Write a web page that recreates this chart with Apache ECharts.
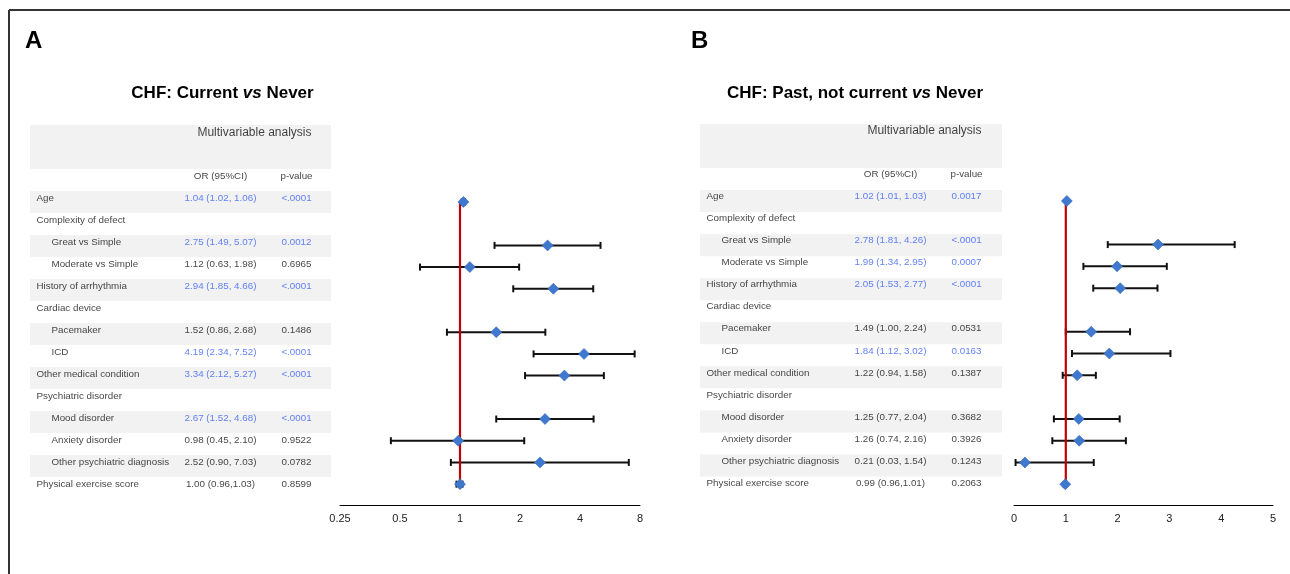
<!DOCTYPE html>
<html><head><meta charset="utf-8">
<script src="https://cdn.jsdelivr.net/npm/echarts@6/dist/echarts.min.js"></script>
<style>html,body{margin:0;padding:0;background:#fff}#c{width:1290px;height:574px}</style>
</head><body><div id="c"></div>
<script>
// ---------------- data ----------------
const rowLabels = ['Age','Complexity of defect','Great vs Simple','Moderate vs Simple','History of arrhythmia','Cardiac device','Pacemaker','ICD','Other medical condition','Psychiatric disorder','Mood disorder','Anxiety disorder','Other psychiatric diagnosis','Physical exercise score'];
const rowLevel = [0,0,1,1,0,0,1,1,0,0,1,1,1,0];

const headerTitle = 'Multivariable analysis';
const colHeaders = ['OR (95%CI)', 'p-value'];

const currentTitle = ['CHF: Current ', 'vs', ' Never'];
const currentOR = [1.04, null, 2.75, 1.12, 2.94, null, 1.52, 4.19, 3.34, null, 2.67, 0.98, 2.52, 1.00];
const currentLo = [1.02, null, 1.49, 0.63, 1.85, null, 0.86, 2.34, 2.12, null, 1.52, 0.45, 0.90, 0.96];
const currentHi = [1.06, null, 5.07, 1.98, 4.66, null, 2.68, 7.52, 5.27, null, 4.68, 2.10, 7.03, 1.03];
const currentText = ['1.04 (1.02, 1.06)','','2.75 (1.49, 5.07)','1.12 (0.63, 1.98)','2.94 (1.85, 4.66)','','1.52 (0.86, 2.68)','4.19 (2.34, 7.52)','3.34 (2.12, 5.27)','','2.67 (1.52, 4.68)','0.98 (0.45, 2.10)','2.52 (0.90, 7.03)','1.00 (0.96,1.03)'];
const currentP = ['<.0001','','0.0012','0.6965','<.0001','','0.1486','<.0001','<.0001','','<.0001','0.9522','0.0782','0.8599'];
const currentTicks = [0.25, 0.5, 1, 2, 4, 8];

const pastTitle = ['CHF: Past, not current ', 'vs', ' Never'];
const pastOR = [1.02, null, 2.78, 1.99, 2.05, null, 1.49, 1.84, 1.22, null, 1.25, 1.26, 0.21, 0.99];
const pastLo = [1.01, null, 1.81, 1.34, 1.53, null, 1.00, 1.12, 0.94, null, 0.77, 0.74, 0.03, 0.96];
const pastHi = [1.03, null, 4.26, 2.95, 2.77, null, 2.24, 3.02, 1.58, null, 2.04, 2.16, 1.54, 1.01];
const pastText = ['1.02 (1.01, 1.03)','','2.78 (1.81, 4.26)','1.99 (1.34, 2.95)','2.05 (1.53, 2.77)','','1.49 (1.00, 2.24)','1.84 (1.12, 3.02)','1.22 (0.94, 1.58)','','1.25 (0.77, 2.04)','1.26 (0.74, 2.16)','0.21 (0.03, 1.54)','0.99 (0.96,1.01)'];
const pastP = ['0.0017','','<.0001','0.0007','<.0001','','0.0531','0.0163','0.1387','','0.3682','0.3926','0.1243','0.2063'];
const pastTicks = [0, 1, 2, 3, 4, 5];

const refValue = 1;

// ---------------- style / layout ----------------
const FONT = "'Liberation Sans', Arial, sans-serif";
const BLUE = '#3B63F2';
const TXT = '#111';
const BAND = '#F2F2F2';
const N_HEAD = 3;
const cats = Array.from({length: N_HEAD + rowLabels.length}, (_, i) => String(i));

function isSig(p) {
  if (!p) return false;
  if (p.charAt(0) === '<') return true;
  return parseFloat(p) < 0.05;
}

const panels = [
  { title: currentTitle, letter: 'A', letterX: 25, titleX: 222.5,
    table: {left: 30, top: 125, width: 301, height: 374}, textDy: -3.5,
    plot: {left: 340, top: 126, width: 300, height: 369}, axisOffset: 10,
    xType: 'log', ticks: currentTicks,
    or: currentOR, lo: currentLo, hi: currentHi, text: currentText, p: currentP },
  { title: pastTitle, letter: 'B', letterX: 691, titleX: 855,
    table: {left: 700, top: 124, width: 302, height: 374.5}, textDy: -4.5,
    plot: {left: 1014, top: 124.7, width: 259, height: 370.5}, axisOffset: 10.5,
    xType: 'value', ticks: pastTicks,
    or: pastOR, lo: pastLo, hi: pastHi, text: pastText, p: pastP }
];

const COL = {name: 6, indent: 15, or: 190.5, p: 266.5, headRight: 282};

const grid = [], xAxis = [], yAxis = [], series = [], graphic = [];

graphic.push(
  {type: 'line', shape: {x1: 9, y1: 10, x2: 1295, y2: 10}, style: {stroke: '#333', lineWidth: 2}, silent: true},
  {type: 'line', shape: {x1: 9, y1: 10, x2: 9, y2: 580}, style: {stroke: '#333', lineWidth: 2}, silent: true}
);

panels.forEach((P, pi) => {
  const tg = grid.length;
  grid.push(Object.assign({containLabel: false}, P.table));
  xAxis.push({gridIndex: tg, type: 'value', min: 0, max: P.table.width, show: false});
  yAxis.push({gridIndex: tg, type: 'category', data: cats, inverse: true, show: false});
  const tAx = xAxis.length - 1;

  const pg = grid.length;
  grid.push(Object.assign({containLabel: false}, P.plot));
  const ax = {
    gridIndex: pg, type: P.xType, min: P.ticks[0], max: P.ticks[P.ticks.length - 1],
    position: 'bottom', offset: P.axisOffset,
    axisLine: {show: true, lineStyle: {color: '#000', width: 1}},
    axisTick: {show: false}, splitLine: {show: false},
    axisLabel: {color: '#222', fontSize: 11, fontFamily: FONT, margin: 8,
      formatter: v => String(+(+v).toFixed(2))}
  };
  if (P.xType === 'log') { ax.logBase = 2; ax.splitNumber = P.ticks.length - 1; }
  else { ax.interval = P.ticks[1] - P.ticks[0]; }
  xAxis.push(ax);
  yAxis.push({gridIndex: pg, type: 'category', data: cats, inverse: true, show: false});
  const pAx = xAxis.length - 1;

  // grey bands
  series.push({
    type: 'bar', xAxisIndex: tAx, yAxisIndex: tAx, silent: true, animation: false,
    barCategoryGap: '0%', barWidth: '100%',
    itemStyle: {color: BAND},
    data: cats.map((c, k) => (k < 2 || (k >= N_HEAD && (k - N_HEAD) % 2 === 0)) ? P.table.width : '-'),
    z: 1
  });

  const lbl = (text, pos, color, size, weight) => ({
    show: true, formatter: text, position: pos, distance: 0, color: color,
    fontSize: size, fontFamily: FONT, fontWeight: weight || 'normal', offset: [0, P.textDy]
  });
  const items = [];
  items.push({value: [COL.headRight, 0], label: lbl(headerTitle, 'left', TXT, 12)});
  items.push({value: [COL.or, 2], label: lbl(colHeaders[0], 'inside', TXT, 9.8)});
  items.push({value: [COL.p, 2], label: lbl(colHeaders[1], 'inside', TXT, 9.8)});
  rowLabels.forEach((name, i) => {
    const k = i + N_HEAD;
    items.push({value: [COL.name + rowLevel[i] * COL.indent, k], label: lbl(name, 'right', TXT, 9.8)});
    if (P.text[i]) {
      const col = isSig(P.p[i]) ? BLUE : TXT;
      items.push({value: [COL.or, k], label: lbl(P.text[i], 'inside', col, 9.8)});
      items.push({value: [COL.p, k], label: lbl(P.p[i], 'inside', col, 9.8)});
    }
  });
  series.push({
    type: 'scatter', xAxisIndex: tAx, yAxisIndex: tAx, silent: true, animation: false,
    symbolSize: 1, itemStyle: {color: 'rgba(0,0,0,0)'}, data: items, z: 3
  });

  // error bars
  const ebData = [];
  P.or.forEach((v, i) => { if (v != null) ebData.push([P.lo[i], P.hi[i], i + N_HEAD]); });
  series.push({
    type: 'custom', xAxisIndex: pAx, yAxisIndex: pAx, silent: true, animation: false,
    encode: {x: [0, 1], y: 2}, data: ebData, z: 2,
    renderItem: (params, api) => {
      const y = api.value(2);
      const a = api.coord([api.value(0), y]);
      const b = api.coord([api.value(1), y]);
      const h = 3.5, st = {stroke: '#111', lineWidth: 2};
      return {type: 'group', children: [
        {type: 'line', shape: {x1: a[0], y1: a[1], x2: b[0], y2: b[1]}, style: st},
        {type: 'line', shape: {x1: a[0], y1: a[1] - h, x2: a[0], y2: a[1] + h}, style: st},
        {type: 'line', shape: {x1: b[0], y1: b[1] - h, x2: b[0], y2: b[1] + h}, style: st}
      ]};
    }
  });

  // reference line at OR = 1
  const idxs = P.or.map((v, i) => v != null ? i + N_HEAD : null).filter(v => v != null);
  series.push({
    type: 'line', xAxisIndex: pAx, yAxisIndex: pAx, silent: true, animation: false,
    symbol: 'none', lineStyle: {color: '#C00000', width: 2.2}, z: 3,
    data: [[refValue, idxs[0]], [refValue, idxs[idxs.length - 1]]]
  });

  // diamonds
  const pts = [];
  P.or.forEach((v, i) => { if (v != null) pts.push([v, i + N_HEAD]); });
  series.push({
    type: 'scatter', xAxisIndex: pAx, yAxisIndex: pAx, silent: true, animation: false,
    symbol: 'diamond', symbolSize: [11, 11], z: 4,
    itemStyle: {color: '#3F79CF', borderColor: '#3568B8', borderWidth: 0.6, opacity: 1},
    data: pts
  });

  // titles and letters
  graphic.push({
    type: 'text', x: P.letterX, y: 41.5, silent: true,
    style: {text: P.letter, font: 'bold 24px ' + FONT, fill: '#000', align: 'left', verticalAlign: 'middle'}
  });
  graphic.push({
    type: 'text', x: P.titleX, y: 93, silent: true,
    style: {
      text: '{b|' + P.title[0] + '}{i|' + P.title[1] + '}{b|' + P.title[2] + '}',
      align: 'center', verticalAlign: 'middle',
      rich: {
        b: {fontSize: 17, fontWeight: 'bold', fontFamily: FONT, fill: '#000', color: '#000'},
        i: {fontSize: 17, fontWeight: 'bold', fontStyle: 'italic', fontFamily: FONT, fill: '#000', color: '#000'}
      }
    }
  });
});

const chart = echarts.init(document.getElementById('c'));
chart.setOption({
  animation: false,
  backgroundColor: '#fff',
  grid, xAxis, yAxis, series, graphic,
  tooltip: {show: false}
});
</script>
</body></html>
